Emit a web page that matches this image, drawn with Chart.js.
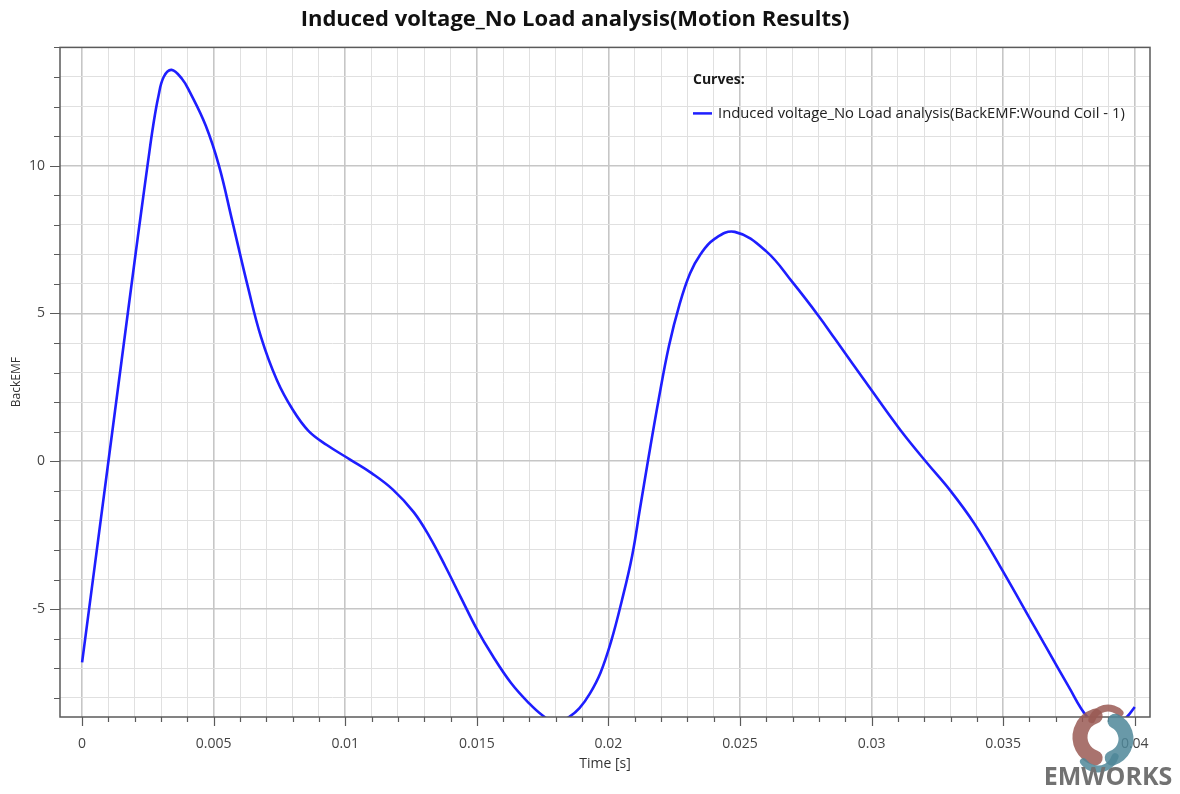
<!DOCTYPE html>
<html>
<head>
<meta charset="utf-8">
<script src="https://cdn.jsdelivr.net/npm/chart.js@4"></script>
<style>
    html, body { margin: 0; padding: 0; background: #ffffff; }
    #wrap { width: 1180px; height: 794px; }
</style>
</head>
<body>
<div id="wrap"><canvas id="emfChart" width="1180" height="794"></canvas></div>
<script>
// Time axis (s) and induced voltage
const timeValues = [0, 0.001, 0.0015, 0.002, 0.00224, 0.0025, 0.0027, 0.0029, 0.0031, 0.0034,
    0.0038, 0.0041, 0.0047, 0.0052, 0.0057, 0.0063, 0.0068, 0.0074, 0.008, 0.0086,
    0.0093, 0.0102, 0.011, 0.0118, 0.0126, 0.0132, 0.0138, 0.0144, 0.015, 0.0156,
    0.0163, 0.017, 0.0175, 0.018, 0.0185, 0.0189, 0.0193, 0.0197, 0.0201, 0.0205,
    0.0209, 0.0212, 0.0215, 0.0219, 0.0223, 0.0227, 0.0231, 0.0235, 0.024, 0.0248,
    0.026, 0.027, 0.028, 0.0286, 0.03, 0.0311, 0.0321, 0.033, 0.0339, 0.0349,
    0.0362, 0.0375, 0.0382, 0.039, 0.0397, 0.04];
const backEmfValues = [-6.8, 0, 3.4, 6.8, 8.4, 10.1, 11.35, 12.35, 13.0, 13.24,
    12.93, 12.48, 11.35, 10.0, 8.15, 5.9, 4.2, 2.75, 1.75, 1.03,
    0.55, 0.05, -0.4, -0.95, -1.72, -2.55, -3.55, -4.62, -5.68, -6.58,
    -7.5, -8.2, -8.6, -8.85, -8.65, -8.35, -7.85, -7.15, -6.1, -4.75,
    -3.2, -1.6, 0, 2.05, 3.9, 5.3, 6.35, 7.0, 7.5, 7.76,
    7.1, 6.05, 4.9, 4.15, 2.4, 1.05, -0.05, -1.0, -2.1, -3.58,
    -5.61, -7.64, -8.65, -9.2, -8.65, -8.31];

const chartTitle = 'Induced voltage_No Load analysis(Motion Results)';
const seriesLabel = 'Induced voltage_No Load analysis(BackEMF:Wound Coil - 1)';
const xAxisTitle = 'Time [s]';
const yAxisTitle = 'BackEMF';
const xMajorStep = 0.005;
const yMajorStep = 5;

const fontFamily = '"Open Sans", "Noto Sans", sans-serif';

function isMajor(value, step) {
    const r = value / step;
    return Math.abs(r - Math.round(r)) < 1e-6;
}

function gridColor(step) {
    return function (ctx) {
        if (!ctx.tick) return '#e2e2e2';
        return isMajor(ctx.tick.value, step) ? '#c6c6c6' : '#e0e0e0';
    };
}

function gridWidth(step) {
    return function (ctx) {
        if (!ctx.tick) return 1;
        return isMajor(ctx.tick.value, step) ? 1.6 : 1;
    };
}

// Draws the frame, tick marks, the in-plot legend and the watermark
const decorPlugin = {
    id: 'decor',
    afterDraw(chart) {
        const c = chart.ctx;
        const area = chart.chartArea;
        const xs = chart.scales.x;
        const ys = chart.scales.y;

        c.save();
        c.strokeStyle = '#5a5a5a';
        c.lineWidth = 1.5;
        c.strokeRect(area.left, area.top, area.right - area.left, area.bottom - area.top);

        // tick marks: long for major, short for minor
        c.lineWidth = 1.2;
        c.beginPath();
        xs.ticks.forEach(t => {
            const px = Math.round(xs.getPixelForValue(t.value)) + 0.5;
            const len = isMajor(t.value, xMajorStep) ? 9 : 5;
            c.moveTo(px, area.bottom);
            c.lineTo(px, area.bottom + len);
        });
        ys.ticks.forEach(t => {
            const py = Math.round(ys.getPixelForValue(t.value)) + 0.5;
            const len = isMajor(t.value, yMajorStep) ? 10 : 6;
            c.moveTo(area.left, py);
            c.lineTo(area.left - len, py);
        });
        c.stroke();

        // legend inside the plot
        const ds = chart.data.datasets[0];
        const lx = area.right - 457;
        c.fillStyle = '#1a1a1a';
        c.font = 'bold 14px ' + fontFamily;
        c.textBaseline = 'middle';
        c.textAlign = 'left';
        c.fillText('Curves:', lx, area.top + 33);
        c.strokeStyle = ds.borderColor;
        c.lineWidth = 2.5;
        c.beginPath();
        c.moveTo(lx, area.top + 66);
        c.lineTo(lx + 19, area.top + 66);
        c.stroke();
        c.fillStyle = '#222222';
        c.font = '14.8px ' + fontFamily;
        c.fillText(ds.label, lx + 25, area.top + 66);

        // EMWORKS watermark
        const cx = area.right - 48;
        const cy = area.bottom + 20;
        c.lineCap = 'round';
        c.globalAlpha = 0.85;
        c.strokeStyle = '#9a5a55';
        c.lineWidth = 15;
        c.beginPath();
        c.arc(cx, cy, 22, Math.PI * 0.6, Math.PI * 1.4);
        c.stroke();
        c.lineWidth = 7;
        c.beginPath();
        c.arc(cx + 6, cy - 12, 17, Math.PI * 1.1, Math.PI * 1.75);
        c.stroke();
        c.strokeStyle = '#4f8799';
        c.lineWidth = 15;
        c.beginPath();
        c.arc(cx + 4, cy + 2, 20, -Math.PI * 0.35, Math.PI * 0.4);
        c.stroke();
        c.lineWidth = 7;
        c.beginPath();
        c.arc(cx - 4, cy + 14, 18, Math.PI * 0.1, Math.PI * 0.8);
        c.stroke();
        c.globalAlpha = 1;
        c.fillStyle = '#727272';
        c.font = 'bold 25px ' + fontFamily;
        c.textAlign = 'center';
        c.fillText('EMWORKS', 1108, 778);
        c.restore();
    }
};

const ctx = document.getElementById('emfChart').getContext('2d');
new Chart(ctx, {
    type: 'line',
    data: {
        datasets: [{
            label: seriesLabel,
            data: timeValues.map((t, i) => ({ x: t, y: backEmfValues[i] })),
            borderColor: '#1e1eff',
            borderWidth: 2.6,
            pointRadius: 0,
            fill: false,
            tension: 0.4
        }]
    },
    options: {
        responsive: false,
        animation: false,
        devicePixelRatio: 1,
        layout: { padding: { left: 0, right: 30, top: 0, bottom: 0 } },
        plugins: {
            legend: { display: false },
            tooltip: { enabled: false },
            title: {
                display: true,
                text: chartTitle,
                color: '#111111',
                font: { family: fontFamily, size: 22, weight: 'bold' },
                padding: { top: 7, bottom: 14 }
            }
        },
        scales: {
            x: {
                type: 'linear',
                min: -0.00084,
                max: 0.04058,
                afterFit: function (scale) { scale.height = 77; },
                border: { display: false },
                grid: {
                    color: gridColor(xMajorStep),
                    lineWidth: gridWidth(xMajorStep),
                    drawTicks: true,
                    tickLength: 9,
                    tickColor: 'rgba(0,0,0,0)'
                },
                ticks: {
                    stepSize: 0.001,
                    autoSkip: false,
                    includeBounds: false,
                    maxRotation: 0,
                    padding: 10,
                    color: '#444444',
                    font: { family: fontFamily, size: 14 },
                    callback: function (value) {
                        return isMajor(value, xMajorStep) ? String(Math.round(value * 1000) / 1000) : '';
                    }
                },
                title: {
                    display: true,
                    text: xAxisTitle,
                    color: '#333333',
                    font: { family: fontFamily, size: 14 },
                    padding: { top: 0, bottom: 22 }
                }
            },
            y: {
                type: 'linear',
                min: -8.65,
                max: 14,
                afterFit: function (scale) { scale.width = 60; },
                border: { display: false },
                grid: {
                    color: gridColor(yMajorStep),
                    lineWidth: gridWidth(yMajorStep),
                    drawTicks: true,
                    tickLength: 9,
                    tickColor: 'rgba(0,0,0,0)'
                },
                ticks: {
                    stepSize: 1,
                    autoSkip: false,
                    includeBounds: false,
                    padding: 6,
                    color: '#444444',
                    font: { family: fontFamily, size: 14 },
                    callback: function (value) {
                        return isMajor(value, yMajorStep) ? String(value) : '';
                    }
                },
                title: {
                    display: true,
                    text: yAxisTitle,
                    color: '#333333',
                    font: { family: fontFamily, size: 12 },
                    padding: { top: 9, bottom: 0 }
                }
            }
        }
    },
    plugins: [decorPlugin]
});
</script>
</body>
</html>
